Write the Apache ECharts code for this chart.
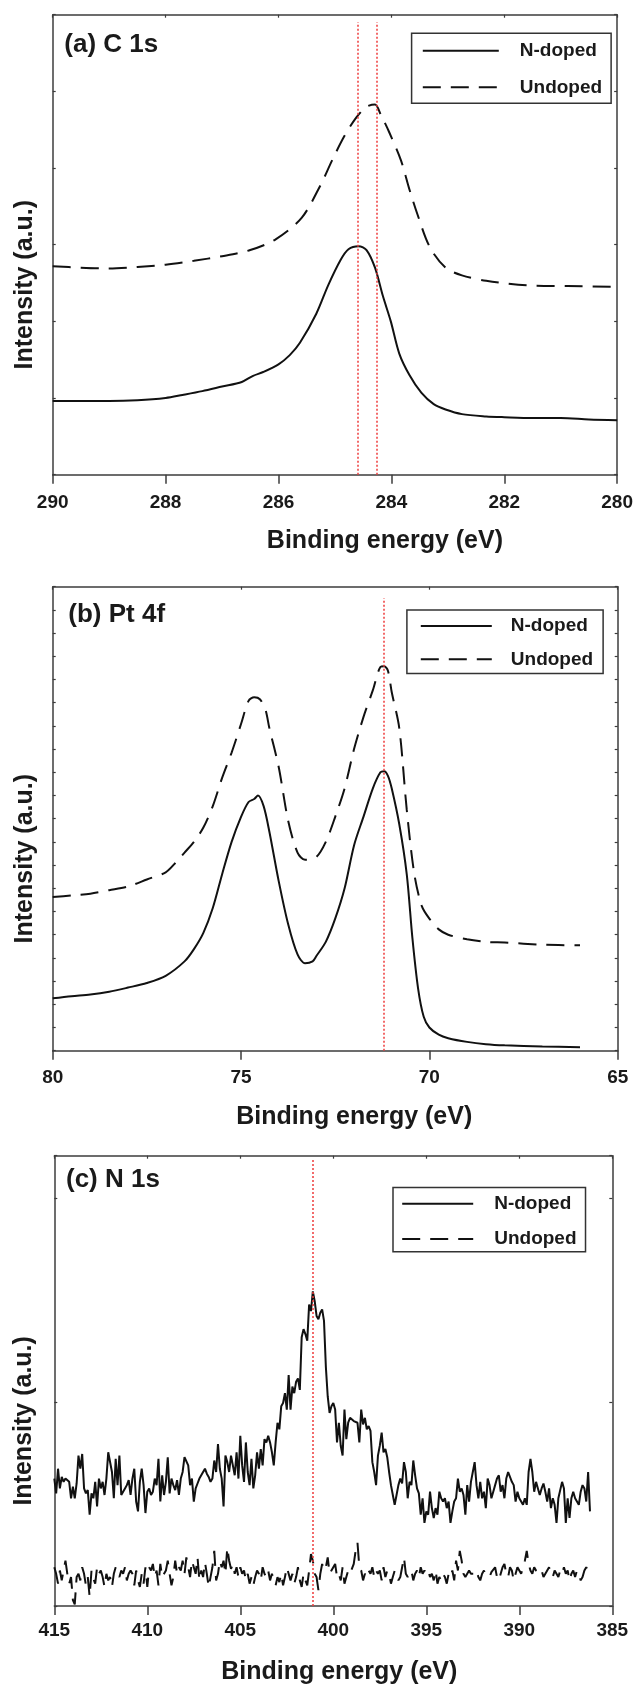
<!DOCTYPE html>
<html><head><meta charset="utf-8">
<script src="https://cdn.jsdelivr.net/npm/echarts@6.0.0/dist/echarts.min.js"></script>
<style>html,body{margin:0;padding:0;background:#fff}#c{width:636px;height:1686px}</style>
</head><body><div id="c"></div>
<script>
// ---------- (a) C 1s ----------
const aNdopedE = [290,289.5,289,288.5,288,287.7,287.35,287,286.65,286.45,286.27,286,285.8,285.62,285.33,285.12,284.9,284.76,284.58,284.44,284.29,284.15,284.01,283.86,283.68,283.47,283.25,283.04,282.75,282.32,282,281.5,281,280.5,280];
const aNdopedI = [0.96,0.96,0.96,0.97,1.0,1.04,1.09,1.15,1.21,1.29,1.34,1.44,1.56,1.72,2.1,2.47,2.8,2.94,2.98,2.93,2.7,2.33,2.0,1.58,1.3,1.07,0.92,0.85,0.79,0.76,0.75,0.74,0.74,0.72,0.71];
const aUndopedE = [290,289.5,289,288.5,288,287.5,287,286.5,286.05,285.59,285.26,285.05,284.83,284.62,284.44,284.29,284.19,284.04,283.83,283.68,283.54,283.32,283.04,282.75,282.32,281.6,280.88,280];
const aUndopedI = [2.72,2.70,2.69,2.71,2.74,2.79,2.85,2.93,3.07,3.35,3.77,4.1,4.42,4.66,4.8,4.83,4.7,4.47,4.1,3.72,3.4,2.97,2.7,2.6,2.53,2.47,2.46,2.45];
const aRefLines = [284.6, 284.26];

// ---------- (b) Pt 4f ----------
const bNdopedE = [80,79.5,79,78.5,78,77.5,77,76.5,76.25,76,75.75,75.5,75.25,75,74.8,74.65,74.55,74.4,74.25,74,73.75,73.5,73.3,73.1,73,72.75,72.5,72.25,72,71.75,71.5,71.3,71.2,71.1,71,70.8,70.6,70.45,70.3,70.15,70,69.75,69.5,69,68.5,68,67,66];
const bNdopedI = [2.26,2.35,2.42,2.54,2.72,2.92,3.23,3.85,4.38,5.08,6.15,7.62,9.0,10.08,10.72,10.85,11.0,10.54,9.46,7.31,5.46,4.15,3.77,3.85,4.08,4.69,5.69,7.0,8.85,10.08,11.31,12.0,12.05,11.85,11.31,9.77,7.6,4.85,2.69,1.46,1.0,0.69,0.54,0.38,0.28,0.23,0.18,0.15];
const bUndopedE = [80,79.5,79,78.5,78,77.5,77,76.75,76.5,76.25,76,75.75,75.5,75.25,75,74.8,74.65,74.5,74.35,74.25,74,73.75,73.5,73.3,73,72.75,72.5,72.25,72,71.75,71.5,71.3,71.2,71.1,71,70.8,70.6,70.4,70.2,70,69.75,69.5,69,68.5,68,67,66];
const bUndopedI = [6.62,6.69,6.77,6.92,7.08,7.38,7.69,8.08,8.54,9.0,9.62,10.54,11.77,12.85,14.08,15.08,15.23,15.15,14.69,13.92,12.23,9.92,8.54,8.23,8.35,9.0,10.08,11.31,13.0,14.38,15.54,16.54,16.57,16.38,15.46,13.92,10.38,7.62,6.23,5.69,5.23,5.0,4.8,4.69,4.66,4.57,4.54];
const bRefLines = [71.22];

// ---------- (c) N 1s ----------
const cE = [
415.0,414.9,414.8,414.7,414.6,414.5,414.4,414.3,414.2,414.1,
414.0,413.9,413.8,413.7,413.6,413.5,413.4,413.3,413.2,413.1,
413.0,412.9,412.8,412.7,412.6,412.5,412.4,412.3,412.2,412.1,
412.0,411.9,411.8,411.7,411.6,411.5,411.4,411.3,411.2,411.1,
411.0,410.9,410.8,410.7,410.6,410.5,410.4,410.3,410.2,410.1,
410.0,409.9,409.8,409.7,409.6,409.5,409.4,409.3,409.2,409.1,
409.0,408.9,408.8,408.7,408.6,408.5,408.4,408.3,408.2,408.1,
408.0,407.9,407.8,407.7,407.6,407.5,407.4,407.3,407.2,407.1,
407.0,406.9,406.8,406.7,406.6,406.5,406.4,406.3,406.2,406.1,
406.0,405.9,405.8,405.7,405.6,405.5,405.4,405.3,405.2,405.1,
405.0,404.9,404.8,404.7,404.6,404.5,404.4,404.3,404.2,404.1,
404.0,403.9,403.8,403.7,403.6,403.5,403.4,403.3,403.2,403.1,
403.0,402.9,402.8,402.7,402.6,402.5,402.4,402.3,402.2,402.1,
402.0,401.9,401.8,401.7,401.6,401.5,401.4,401.3,401.2,401.1,
401.0,400.9,400.8,400.7,400.6,400.5,400.4,400.3,400.2,400.1,
400.0,399.9,399.8,399.7,399.6,399.5,399.4,399.3,399.2,399.1,
399.0,398.9,398.8,398.7,398.6,398.5,398.4,398.3,398.2,398.1,
398.0,397.9,397.8,397.7,397.6,397.5,397.4,397.3,397.2,397.1,
397.0,396.9,396.8,396.7,396.6,396.5,396.4,396.3,396.2,396.1,
396.0,395.9,395.8,395.7,395.6,395.5,395.4,395.3,395.2,395.1,
395.0,394.9,394.8,394.7,394.6,394.5,394.4,394.3,394.2,394.1,
394.0,393.9,393.8,393.7,393.6,393.5,393.4,393.3,393.2,393.1,
393.0,392.9,392.8,392.7,392.6,392.5,392.4,392.3,392.2,392.1,
392.0,391.9,391.8,391.7,391.6,391.5,391.4,391.3,391.2,391.1,
391.0,390.9,390.8,390.7,390.6,390.5,390.4,390.3,390.2,390.1,
390.0,389.9,389.8,389.7,389.6,389.5,389.4,389.3,389.2,389.1,
389.0,388.9,388.8,388.7,388.6,388.5,388.4,388.3,388.2,388.1,
388.0,387.9,387.8,387.7,387.6,387.5,387.4,387.3,387.2,387.1,
387.0,386.9,386.8,386.7,386.6,386.5,386.4,386.3,386.2];
const cNdopedI = [
388,343,418,358,393,378,388,383,378,328,
363,328,373,458,418,463,358,343,353,278,
343,328,378,303,388,358,378,338,388,468,
463,408,328,448,368,458,338,338,358,368,
383,338,388,418,318,288,378,418,368,283,
348,358,338,348,388,368,448,318,398,338,
378,453,343,388,368,353,383,338,388,408,
453,448,428,368,388,318,358,373,388,383,
408,418,403,393,378,388,443,408,493,418,
388,303,458,438,408,458,428,398,468,388,
518,428,378,498,408,368,448,358,398,468,
418,478,428,508,498,518,498,468,428,498,
558,538,608,618,648,598,703,598,668,648,
683,693,658,818,843,828,808,918,898,958,
928,883,873,893,903,868,728,638,588,608,
618,598,498,558,488,458,598,508,558,573,
578,563,563,558,498,598,553,573,538,548,
533,438,408,368,458,488,528,468,478,453,
408,368,338,308,338,368,388,373,438,408,
328,378,368,443,398,358,343,278,328,253,
288,278,348,298,268,298,278,348,328,318,
328,298,318,253,288,318,328,388,348,358,
338,278,368,318,378,408,438,368,328,378,
328,348,298,388,368,328,348,368,388,398,
348,368,328,388,408,408,378,368,318,348,
328,318,308,328,308,408,448,408,348,378,
358,338,358,373,348,318,358,298,328,308,
253,328,328,378,358,253,328,268,328,348,
328,318,308,348,368,358,318,408,288];
const cUndopedI = [
118,98,68,108,78,108,138,98,68,88,
18,5,88,98,78,118,98,63,88,28,
108,83,68,118,98,108,88,58,98,78,
88,58,98,118,113,88,108,98,118,78,
98,108,98,63,108,78,58,98,68,118,
58,118,108,128,88,108,63,128,88,98,
108,138,98,63,88,138,98,118,108,138,
98,148,118,88,138,118,98,148,78,108,
88,133,98,58,88,118,168,78,98,138,
118,138,98,178,138,113,128,98,118,88,
118,98,108,78,98,68,88,63,88,108,
98,78,118,98,88,108,78,98,93,63,
88,73,98,63,88,118,98,78,98,68,
88,118,78,58,98,78,63,108,158,138,
98,88,48,98,128,108,118,148,98,108,
108,128,88,98,78,118,68,88,108,98,
98,128,168,193,118,108,78,98,88,108,
98,118,88,108,98,108,78,118,88,108,
98,68,88,108,98,78,88,118,148,98,
88,93,108,78,98,108,88,118,98,108,
98,108,88,98,78,108,68,88,78,98,
88,68,98,88,108,78,138,108,168,138,
98,88,98,108,98,103,98,108,88,78,
98,108,93,98,88,103,98,118,88,78,
98,118,128,98,88,118,108,78,98,118,
108,98,118,138,168,128,108,98,118,108,
113,98,108,88,98,108,118,98,88,108,
98,88,108,98,118,98,108,78,98,108,
88,108,98,78,88,108,118,108,118];
const cRefLines = [401.1];

// ---------- axis ranges / labels ----------
const panelTitles = ['(a) C 1s', '(b) Pt 4f', '(c) N 1s'];
const xRanges = [[280, 290, 2], [65, 80, 5], [385, 415, 5]];
const yRanges = [[0, 6, 1], [0, 20, 1], [0, 1371, 620]];
const seriesNames = ['N-doped', 'Undoped'];
const xName = 'Binding energy (eV)';
const yName = 'Intensity (a.u.)';

const FONT = "'Liberation Sans', Arial, Helvetica, sans-serif";
const TXT = '#1a1a1a';
const AX = '#3c3c3c';
const INK = '#111111';
const RED = '#ee3b3b';

const grids = [
  {left: 52.7, top: 14.7, width: 565, height: 460},
  {left: 52.7, top: 586.7, width: 565, height: 464},
  {left: 54.3, top: 1155.7, width: 558, height: 457}
];
const labelMargins = [18.5, 17.5, 15.5];
const xNameShift = [50, 19, 6];
const yNameGap = [15, 15, 17];
const refTop = [5.9, 19.5, 1359];

function pairs(xs, ys) { return xs.map((x, i) => [x, ys[i]]); }

const xAxis = [], yAxis = [];
grids.forEach((g, i) => {
  const [mn, mx, iv] = xRanges[i];
  const [ymn, ymx, yiv] = yRanges[i];
  const line = {show: true, onZero: false, lineStyle: {color: AX, width: 1.5}};
  xAxis.push({
    type: 'value', gridIndex: i, min: mn, max: mx, interval: iv, inverse: true, position: 'bottom',
    axisLine: line,
    axisTick: {show: true, inside: false, length: 9, lineStyle: {color: AX, width: 1.5}},
    axisLabel: {margin: labelMargins[i], color: TXT, fontSize: 19, fontWeight: 'bold', fontFamily: FONT},
    splitLine: {show: false},
    name: xName, nameLocation: 'middle', nameGap: 53,
    nameTextStyle: {fontSize: 25, fontWeight: 'bold', color: TXT, fontFamily: FONT, lineHeight: 26,
      padding: [0, 0, 0, 2 * xNameShift[i]]}
  });
  xAxis.push({
    type: 'value', gridIndex: i, min: mn, max: mx, interval: iv, inverse: true, position: 'top',
    axisLine: line,
    axisTick: {show: true, inside: true, length: 3, lineStyle: {color: AX, width: 1.2}},
    axisLabel: {show: false}, splitLine: {show: false}
  });
  yAxis.push({
    type: 'value', gridIndex: i, min: ymn, max: ymx, interval: yiv, position: 'left',
    axisLine: line,
    axisTick: {show: true, inside: true, length: 3, lineStyle: {color: AX, width: 1.2}},
    axisLabel: {show: false}, splitLine: {show: false},
    name: yName, nameLocation: 'middle', nameGap: yNameGap[i],
    nameTextStyle: {fontSize: 25, fontWeight: 'bold', color: TXT, fontFamily: FONT, lineHeight: 26,
      padding: [0, 80, 0, 0]}
  });
  yAxis.push({
    type: 'value', gridIndex: i, min: ymn, max: ymx, interval: yiv, position: 'right',
    axisLine: line,
    axisTick: {show: true, inside: true, length: 3, lineStyle: {color: AX, width: 1.2}},
    axisLabel: {show: false}, splitLine: {show: false}
  });
});

const panelData = [
  [pairs(aNdopedE, aNdopedI), pairs(aUndopedE, aUndopedI), aRefLines, 0.3],
  [pairs(bNdopedE, bNdopedI), pairs(bUndopedE, bUndopedI), bRefLines, 0.3],
  [pairs(cE, cNdopedI), pairs(cE, cUndopedI), cRefLines, false]
];

const series = [];
panelData.forEach((p, i) => {
  series.push({
    type: 'line', name: seriesNames[0], xAxisIndex: 2 * i, yAxisIndex: 2 * i,
    data: p[0], symbol: 'none', smooth: p[3],
    lineStyle: {color: INK, width: 2, type: 'solid'}, itemStyle: {color: INK},
    markLine: {
      silent: true, symbol: 'none', label: {show: false},
      lineStyle: {color: RED, type: [2, 2], width: 1.5},
      data: p[2].map(e => [{coord: [e, 0]}, {coord: [e, refTop[i]]}])
    }
  });
  series.push({
    type: 'line', name: seriesNames[1], xAxisIndex: 2 * i, yAxisIndex: 2 * i,
    data: p[1], symbol: 'none', smooth: p[3],
    lineStyle: {color: INK, width: 2, type: [18, 10]}, itemStyle: {color: INK}
  });
});

const legendBoxes = [
  {left: 411.6, top: 33.3, padding: [7.4, 9, 6, 10.2], itemWidth: 76, itemGap: 16.6, textPad: 16},
  {left: 406.9, top: 610, padding: [6, 10, 4.3, 12.9], itemWidth: 71, itemGap: 13.3, textPad: 14},
  {left: 393, top: 1187.5, padding: [6.3, 9, 2.7, 8.2], itemWidth: 71, itemGap: 15.3, textPad: 16}
];
const legend = legendBoxes.map(L => ({
  data: seriesNames, orient: 'vertical', left: L.left, top: L.top, padding: L.padding,
  itemWidth: L.itemWidth, itemHeight: 20, itemGap: L.itemGap, selectedMode: false,
  borderColor: '#333', borderWidth: 1.5, backgroundColor: '#fff',
  itemStyle: {opacity: 0},
  textStyle: {fontSize: 19, fontWeight: 'bold', color: TXT, fontFamily: FONT, lineHeight: 20,
    padding: [0, 0, 0, L.textPad]}
}));

const titlePos = [[64.3, 30], [68.3, 600], [66, 1165]];
const title = panelTitles.map((t, i) => ({
  text: t, left: titlePos[i][0], top: titlePos[i][1], padding: 0,
  textStyle: {fontSize: 26, fontWeight: 'bold', color: TXT, fontFamily: FONT, lineHeight: 30}
}));

const chart = echarts.init(document.getElementById('c'), null, {renderer: 'canvas'});
chart.setOption({
  animation: false, backgroundColor: '#fff',
  title, legend, grid: grids, xAxis, yAxis, series
});
</script></body></html>
